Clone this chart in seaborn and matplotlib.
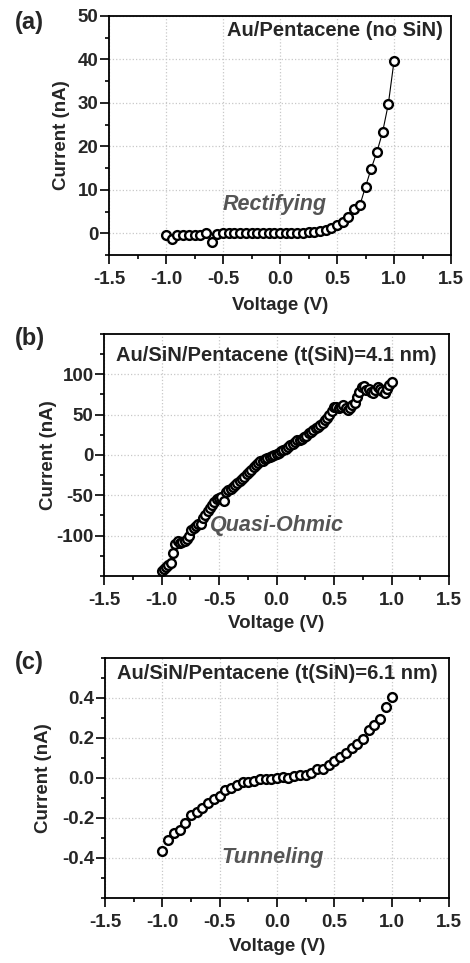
import numpy as np
import matplotlib
matplotlib.use("Agg")
import matplotlib.pyplot as plt
from matplotlib.ticker import MultipleLocator
import seaborn as sns

# panel (a): Au/Pentacene, no SiN
volt_a = [-1.0, -0.95, -0.9, -0.85, -0.8, -0.75, -0.7, -0.65, -0.6, -0.55,
          -0.5, -0.45, -0.4, -0.35, -0.3, -0.25, -0.2, -0.15, -0.1, -0.05,
          0.0, 0.05, 0.1, 0.15, 0.2, 0.25, 0.3, 0.35, 0.4, 0.45,
          0.5, 0.55, 0.6, 0.65, 0.7, 0.75, 0.8, 0.85, 0.9, 0.95, 1.0]
curr_a = [-0.5, -1.3, -0.3, -0.3, -0.3, -0.3, -0.3, 0.0, -1.9, -0.1,
          0.0, 0.0, 0.0, 0.0, 0.0, 0.0, 0.0, 0.0, 0.0, 0.0,
          0.0, 0.0, 0.0, 0.05, 0.1, 0.2, 0.4, 0.6, 0.8, 1.3,
          1.9, 2.5, 3.8, 5.5, 6.4, 10.7, 14.9, 18.7, 23.3, 29.7, 39.6]

# panel (b): t(SiN) = 4.1 nm
volt_b = [-1.00, -0.98, -0.96, -0.94, -0.92, -0.90, -0.88, -0.86, -0.84, -0.82,
          -0.80, -0.78, -0.76, -0.74, -0.72, -0.70, -0.68, -0.66, -0.64, -0.62,
          -0.60, -0.58, -0.56, -0.54, -0.52, -0.50, -0.48, -0.46, -0.44, -0.42,
          -0.40, -0.38, -0.36, -0.34, -0.32, -0.30, -0.28, -0.26, -0.24, -0.22,
          -0.20, -0.18, -0.16, -0.14, -0.12, -0.10, -0.08, -0.06, -0.04, -0.02,
          0.00, 0.02, 0.04, 0.06, 0.08, 0.10, 0.12, 0.14, 0.16, 0.18,
          0.20, 0.22, 0.24, 0.26, 0.28, 0.30, 0.32, 0.34, 0.36, 0.38,
          0.40, 0.42, 0.44, 0.46, 0.48, 0.50, 0.52, 0.54, 0.56, 0.58,
          0.60, 0.62, 0.64, 0.66, 0.68, 0.70, 0.72, 0.74, 0.76, 0.78,
          0.80, 0.82, 0.84, 0.86, 0.88, 0.90, 0.92, 0.94, 0.96, 0.98, 1.00]
curr_b = [-144, -141, -139, -136, -134, -122, -110, -107, -109, -108,
          -106, -104, -100, -93, -90, -88, -86, -85, -78, -74,
          -70, -66, -62, -58, -55, -53, -52, -57, -46, -44,
          -42, -40, -37, -35, -32, -30, -27, -24, -21, -18,
          -15, -12, -10, -8, -7, -5, -4, -2, -1, 0,
          1, 3, 5, 6, 8, 10, 12, 14, 16, 18,
          19, 20, 22, 24, 27, 29, 31, 33, 35, 37,
          40, 43, 46, 50, 55, 60, 59, 58, 60, 62,
          58, 56, 58, 62, 65, 72, 78, 84, 85, 80,
          82, 78, 77, 80, 84, 82, 79, 77, 82, 87, 90]

# panel (c): t(SiN) = 6.1 nm
volt_c = volt_a
curr_c = [-0.366, -0.308, -0.274, -0.258, -0.225, -0.185, -0.169, -0.149, -0.123, -0.107,
          -0.090, -0.062, -0.049, -0.036, -0.021, -0.020, -0.013, -0.006, -0.005, -0.003,
          0.000, 0.003, -0.002, 0.008, 0.015, 0.013, 0.025, 0.047, 0.043, 0.065,
          0.087, 0.103, 0.123, 0.152, 0.172, 0.193, 0.238, 0.267, 0.295, 0.356, 0.406]

sns.set_theme(style="ticks")
plt.rcParams['font.family'] = ['Liberation Sans', 'DejaVu Sans']
plt.rcParams['font.weight'] = 'bold'

fig = plt.figure(figsize=(4.70, 9.63), dpi=100)

rects = [
    [109 / 470, 1 - 255 / 963, 342 / 470, 239 / 963],
    [104 / 470, 1 - 576 / 963, 345 / 470, 242 / 963],
    [105 / 470, 1 - 898 / 963, 344 / 470, 240 / 963],
]
titles = ["Au/Pentacene (no SiN)",
          "Au/SiN/Pentacene (t(SiN)=4.1 nm)",
          "Au/SiN/Pentacene (t(SiN)=6.1 nm)"]
letters = ["(a)", "(b)", "(c)"]
letter_y = [1 - 23 / 963, 1 - 338 / 963, 1 - 662 / 963]
ylims = [(-5, 50), (-150, 150), (-0.6, 0.6)]
ymajor = [10, 50, 0.2]
yminor = [5, 25, 0.1]
ylab_x = [-0.114, -0.136, -0.154]
xlab_y = [-0.176, -0.161, -0.167]
notes = ["Rectifying", "Quasi-Ohmic", "Tunneling"]
note_pos = [(-0.05, 6.7), (0.0, -88), (-0.035, -0.40)]

marker_kw = dict(marker='o', s=40, facecolor='white', edgecolor='black',
                 linewidth=1.7, zorder=3)

for i in range(3):
    ax = fig.add_axes(rects[i])
    if i == 0:
        sns.lineplot(x=volt_a, y=curr_a, ax=ax, color='black', linewidth=0.8,
                     zorder=2)
        sns.scatterplot(x=volt_a, y=curr_a, ax=ax, **marker_kw)
    elif i == 1:
        sns.scatterplot(x=volt_b, y=curr_b, ax=ax, **marker_kw)
    else:
        sns.scatterplot(x=volt_c, y=curr_c, ax=ax, **marker_kw)

    ax.set_xlim(-1.5, 1.5)
    ax.set_ylim(*ylims[i])
    ax.xaxis.set_major_locator(MultipleLocator(0.5))
    ax.xaxis.set_minor_locator(MultipleLocator(0.25))
    ax.yaxis.set_major_locator(MultipleLocator(ymajor[i]))
    ax.yaxis.set_minor_locator(MultipleLocator(yminor[i]))
    if i == 2:
        ax.set_yticks([-0.4, -0.2, 0.0, 0.2, 0.4])
        ax.set_yticklabels(["-0.4", "-0.2", "0.0", "0.2", "0.4"])
    elif i == 1:
        ax.set_yticks([-100, -50, 0, 50, 100])
        ax.set_yticklabels(["-100", "-50", "0", "50", "100"])
    else:
        ax.set_yticks([0, 10, 20, 30, 40, 50])
    ax.set_xticks([-1.5, -1.0, -0.5, 0.0, 0.5, 1.0, 1.5])
    ax.set_xticklabels(["-1.5", "-1.0", "-0.5", "0.0", "0.5", "1.0", "1.5"])

    ax.grid(True, which='major', color='#c8c8c8', linestyle=':', linewidth=0.9)
    ax.set_axisbelow(True)
    for sp in ax.spines.values():
        sp.set_color('black')
        sp.set_linewidth(1.3)
    ax.tick_params(which='major', direction='out', length=6.5, width=1.2,
                   labelsize=13.5, color='black')
    ax.tick_params(axis='x', which='major', pad=5)
    ax.tick_params(axis='y', which='major', pad=1)
    ax.tick_params(which='minor', direction='out', length=3.2, width=1.2,
                   color='black')
    ax.tick_params(axis='both', which='both', bottom=True, left=True)
    for lab in ax.get_xticklabels() + ax.get_yticklabels():
        lab.set_fontweight('bold')

    ax.set_xlabel("Voltage (V)", fontsize=13.5, fontweight='bold')
    ax.set_ylabel("Current (nA)", fontsize=13.5, fontweight='bold')
    ax.xaxis.set_label_coords(0.5, xlab_y[i])
    ax.yaxis.set_label_coords(ylab_x[i], 0.5)

    if i == 0:
        ax.text(0.977, 0.938, titles[i], transform=ax.transAxes, ha='right',
                va='center', fontsize=14.5, fontweight='bold')
    else:
        ax.text(0.5, 0.913 if i == 1 else 0.936, titles[i], transform=ax.transAxes,
                ha='center', va='center', fontsize=14.5, fontweight='bold')
    ax.text(note_pos[i][0], note_pos[i][1], notes[i], ha='center', va='center',
            fontsize=15.5, fontweight='bold', fontstyle='italic', color='#555555')

    fig.text(15 / 470, letter_y[i], letters[i], ha='left', va='center',
             fontsize=17, fontweight='bold')

fig.savefig("out.png", dpi=100)
